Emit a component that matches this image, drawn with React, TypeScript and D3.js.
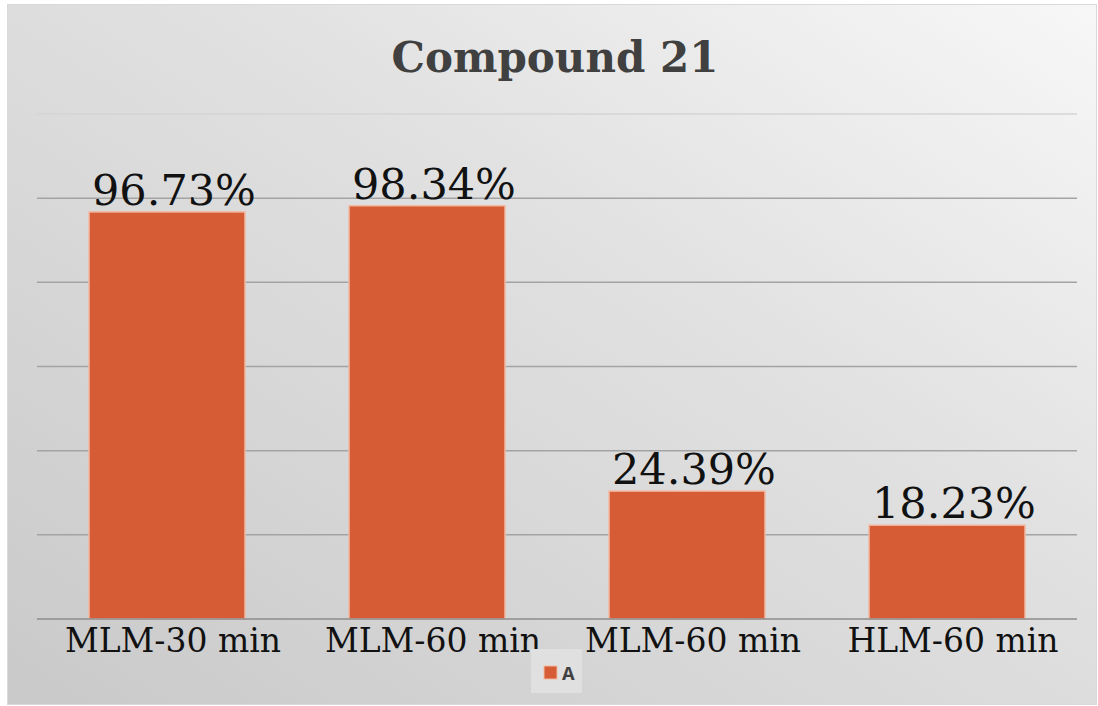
import { useEffect, useRef } from "react";
import * as d3 from "d3";

const categories = ["MLM-30 min", "MLM-60 min", "MLM-60 min", "HLM-60 min"];
// bar heights as drawn in the picture (the last two bars stand taller than their labels)
const barValues = [96.73, 98.2, 30.4, 22.3];
const valueLabels = ["96.73%", "98.34%", "24.39%", "18.23%"];
const yTicks = [0, 20, 40, 60, 80, 100, 120];
const seriesName = "A";

const App = () => {
  const chartRef = useRef<SVGSVGElement | null>(null);

  useEffect(() => {
    const width = 1098;
    const height = 706;
    const plotLeft = 37;
    const plotRight = 1077;
    const plotTop = 114;
    const plotBottom = 619;

    const svg = d3.select(chartRef.current);
    svg.selectAll("*").remove();

    const defs = svg.append("defs");
    const grad = defs
      .append("linearGradient")
      .attr("id", "bg")
      .attr("x1", "0%")
      .attr("y1", "100%")
      .attr("x2", "100%")
      .attr("y2", "0%");
    grad.append("stop").attr("offset", "0%").attr("stop-color", "#c9c9c9");
    grad.append("stop").attr("offset", "60%").attr("stop-color", "#e1e1e1");
    grad.append("stop").attr("offset", "100%").attr("stop-color", "#f7f7f7");

    svg
      .append("rect")
      .attr("x", 7.5)
      .attr("y", 4.5)
      .attr("width", width - 9)
      .attr("height", height - 6)
      .attr("fill", "url(#bg)")
      .attr("stroke", "#d9d9d9")
      .attr("stroke-width", 1);

    const xScale = d3
      .scaleBand<number>()
      .domain(d3.range(categories.length))
      .range([plotLeft, plotRight])
      .paddingInner(0.4)
      .paddingOuter(0.2);

    const yScale = d3.scaleLinear().domain([0, 120]).range([plotBottom, plotTop]);

    svg
      .append("g")
      .selectAll("line")
      .data(yTicks.slice(1))
      .join("line")
      .attr("x1", plotLeft)
      .attr("x2", plotRight)
      .attr("y1", (d) => yScale(d))
      .attr("y2", (d) => yScale(d))
      .attr("stroke", (d) => (d === 120 ? "#d4d4d4" : "#a3a3a3"))
      .attr("stroke-width", 1.5);

    svg
      .append("g")
      .selectAll("rect")
      .data(barValues)
      .join("rect")
      .attr("x", (_, i) => xScale(i)!)
      .attr("y", (d) => yScale(d))
      .attr("width", xScale.bandwidth())
      .attr("height", (d) => plotBottom - yScale(d))
      .attr("fill", "#d55c34")
      .attr("stroke", "#f2b9a2")
      .attr("stroke-width", 1.5);

    svg
      .append("line")
      .attr("x1", plotLeft)
      .attr("x2", plotRight)
      .attr("y1", plotBottom)
      .attr("y2", plotBottom)
      .attr("stroke", "#8c8c8c")
      .attr("stroke-width", 1.5);

    svg
      .append("g")
      .selectAll("text")
      .data(valueLabels)
      .join("text")
      .attr("x", (_, i) => xScale(i)! + xScale.bandwidth() / 2 + 7)
      .attr("y", (_, i) => yScale(barValues[i]) - 7)
      .attr("text-anchor", "middle")
      .attr("font-family", "DejaVu Serif")
      .attr("font-size", 43)
      .attr("fill", "#111")
      .text((d) => d);

    svg
      .append("g")
      .selectAll("text")
      .data(categories)
      .join("text")
      .attr("x", (_, i) => xScale(i)! + xScale.bandwidth() / 2 + 6)
      .attr("y", plotBottom + 33)
      .attr("text-anchor", "middle")
      .attr("font-family", "DejaVu Serif")
      .attr("font-size", 33)
      .attr("fill", "#111")
      .text((d) => d);

    svg
      .append("text")
      .attr("x", 555)
      .attr("y", 72)
      .attr("text-anchor", "middle")
      .attr("font-family", "DejaVu Serif")
      .attr("font-weight", "bold")
      .attr("font-size", 42)
      .attr("fill", "#404040")
      .text("Compound 21");

    const legend = svg.append("g").attr("transform", "translate(531,649)");
    legend
      .append("rect")
      .attr("width", 51)
      .attr("height", 44)
      .attr("fill", "#e0e0e0");
    legend
      .append("rect")
      .attr("x", 13)
      .attr("y", 17)
      .attr("width", 13)
      .attr("height", 13)
      .attr("fill", "#d55c34")
      .attr("stroke", "#f2b9a2");
    legend
      .append("text")
      .attr("x", 31)
      .attr("y", 31)
      .attr("font-family", "Liberation Mono")
      .attr("font-weight", "bold")
      .attr("font-size", 21)
      .attr("fill", "#404040")
      .text(seriesName);
  }, []);

  return (
    <svg
      ref={chartRef}
      width={1098}
      height={706}
      style={{ position: "absolute", left: 0, top: 0 }}
    />
  );
};

export default App;
